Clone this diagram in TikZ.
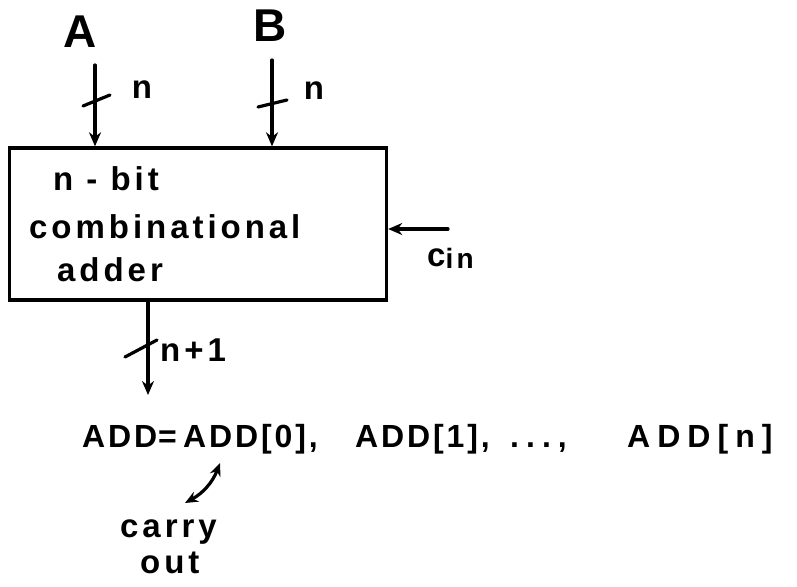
\documentclass[tikz,border=0pt]{standalone}
\usepackage{fontspec}
\setmainfont{Liberation Sans}
\newfontfamily\hand[LetterSpace=12]{Liberation Sans}
\newfontfamily\handcaps[LetterSpace=9]{Liberation Sans}
\newfontfamily\handwide[LetterSpace=22]{Liberation Sans}
\usetikzlibrary{arrows.meta}
\begin{document}
\begin{tikzpicture}[x=1pt,y=-1pt,
  wire/.style={line width=3.2pt, line cap=round},
  arr/.style={wire, -{Stealth[length=14pt,width=12pt]}},
  dbl/.style={wire, {Stealth[length=13pt,width=11pt]}-{Stealth[length=13pt,width=11pt]}},
  tick/.style={line width=3.2pt, line cap=round},
  big/.style={inner sep=0pt, font=\fontsize{46}{50}\selectfont\bfseries},
  lower/.style={inner sep=0pt, font=\fontsize{33}{38}\hand\bfseries},
  caps/.style={inner sep=0pt, font=\fontsize{32}{38}\handcaps\bfseries},
  wcaps/.style={inner sep=0pt, font=\fontsize{32}{38}\handwide\bfseries},
  blk/.style={draw, line width=3.4pt, minimum width=377pt, minimum height=152pt, inner sep=0pt}]
\useasboundingbox (0,0) rectangle (797,586);
\fill[white] (0,0) rectangle (797,586);

% inputs
\node[big] (A) at (80,32) {A};
\node[big] (B) at (270,26) {B};
\node[blk] (adder) at (198,224) {};

\coordinate (a0) at (95,65);
\coordinate (b0) at (272,60);
\draw[arr] (a0) -- (a0 |- adder.north);
\draw[arr] (b0) -- (b0 |- adder.north);
\draw[tick] (83,106) -- (110,95);
\draw[tick] (258,107) -- (287,100);
\node[lower] (na) at (142,90) {n};
\node[lower] (nb) at (314,91) {n};

% box text
\node[lower, anchor=base west] (l1) at (53,190) {n - bit};
\node[lower, anchor=base west] (l2) at (29,238) {combinational};
\node[lower, anchor=base west] (l3) at (57,281) {adder};

% carry in
\coordinate (c0) at (448,229);
\draw[arr] (c0) -- (c0 -| adder.east);
\node[inner sep=0pt, anchor=base west] (cin) at (427,266) {\fontsize{33}{38}\hand\bfseries c\raisebox{-2pt}{\fontsize{28}{30}\hand\bfseries in}};

% output
\coordinate (o1) at (148,395);
\draw[arr] (o1 |- adder.south) -- (o1);
\draw[tick] (125,357) -- (157,340);
\node[lower, anchor=base west] (n1) at (160,361) {n+1};

% sum line
\node[caps, anchor=base west] (s0) at (82,447) {ADD};
\node[caps, anchor=base west] (eq) at (158,447) {=};
\node[caps, anchor=base west] (s1) at (183,447) {ADD[0],};
\node[caps, anchor=base west] (s2) at (355,447) {ADD[1],};
\node[wcaps, anchor=base west] (s3) at (510,447) {...,};
\node[wcaps, anchor=base west] (s4) at (627,447) {ADD[n]};

% carry out
\coordinate (k1) at (220,463);
\coordinate (k2) at (185,503);
\draw[dbl] (k1) to[bend left=20] (k2);
\node[lower, anchor=base west] (carry) at (120,537) {carry};
\node[lower, anchor=base west] (out) at (140,573) {out};
\end{tikzpicture}
\end{document}
